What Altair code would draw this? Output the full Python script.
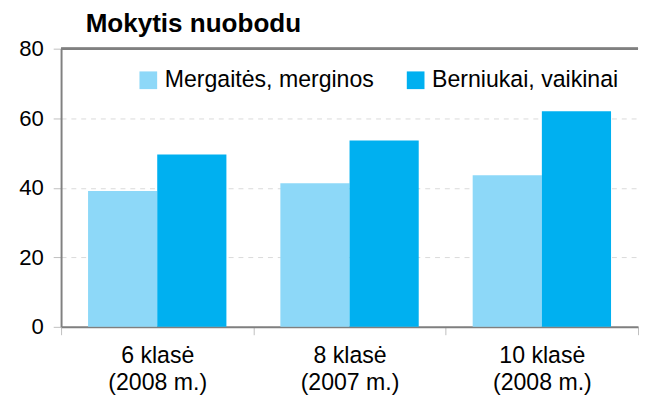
import altair as alt
import pandas as pd

categories = ["6 klasė\n(2008 m.)", "8 klasė\n(2007 m.)", "10 klasė\n(2008 m.)"]
series = ["Mergaitės, merginos", "Berniukai, vaikinai"]
girls = [39.1, 41.3, 43.6]
boys = [49.6, 53.6, 62.0]
colors = ["#8DD8F8", "#00B0F0"]
y_ticks = [0, 20, 40, 60, 80]

rows = []
for c, g, b in zip(categories, girls, boys):
    rows.append({"cat": c, "series": series[0], "value": g})
    rows.append({"cat": c, "series": series[1], "value": b})
df = pd.DataFrame(rows)

font = "Liberation Sans"

bars = alt.Chart(df).mark_bar().encode(
    x=alt.X(
        "cat:N", sort=categories,
        scale=alt.Scale(paddingInner=0, paddingOuter=0),
        axis=alt.Axis(
            title=None, labelAngle=0, labelExpr="split(datum.label, '\\n')",
            labelFontSize=23.5, labelFont=font, labelColor="#000000", labelPadding=9,
            labelLineHeight=28, tickBand="extent", tickSize=8, tickColor="#bfbfbf",
            domainColor="#7f7f7f", domainWidth=2, grid=False,
        ),
    ),
    xOffset=alt.XOffset("series:N", sort=series,
                        scale=alt.Scale(paddingInner=0, paddingOuter=0.39)),
    y=alt.Y(
        "value:Q", scale=alt.Scale(domain=[0, 80]),
        axis=alt.Axis(
            values=y_ticks, title=None, labelFontSize=22.5, labelFont=font,
            labelColor="#000000", labelPadding=10, tickSize=8, tickColor="#bfbfbf",
            domainColor="#808080", domainWidth=2, gridDash=[5, 5], gridColor="#d9d9d9",
        ),
    ),
    color=alt.Color(
        "series:N", sort=series, scale=alt.Scale(domain=series, range=colors),
        legend=alt.Legend(
            title=None, orient="none", legendX=77, legendY=20, direction="horizontal",
            symbolType="square", symbolSize=324, symbolStrokeWidth=0,
            labelFontSize=23.5, labelFont=font, labelColor="#000000", labelLimit=400,
            columnPadding=30, labelOffset=5, padding=0,
        ),
    ),
)

top_line = alt.Chart(df).mark_rule(color="#808080", strokeWidth=2).encode(y=alt.datum(80))

chart = alt.layer(bars, top_line).properties(
    width=587, height=283,
    autosize=alt.AutoSizeParams(type="pad"),
    padding={"left": 10, "top": 0, "right": 0, "bottom": 0},
    title=alt.TitleParams(
        "Mokytis nuobodu", anchor="start", frame="group", dx=25, fontSize=26.5, font=font,
        fontWeight="bold", color="#000000", offset=0,
    ),
).configure_view(stroke=None)

chart.save("out.html", embed_options={"renderer": "svg", "actions": False})
